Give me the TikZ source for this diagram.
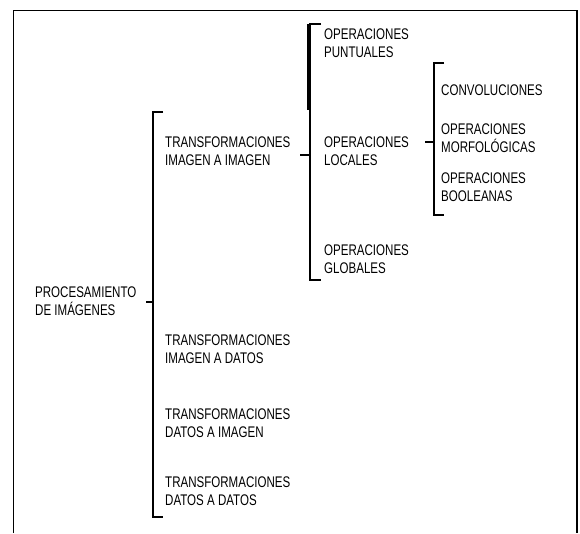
\documentclass[tikz,border=0pt]{standalone}
\usepackage{fontspec}
\setmainfont[FakeStretch=0.75]{Liberation Sans}
\begin{document}
\begin{tikzpicture}[x=1pt,y=-1pt,
    lbl/.style={anchor=west,align=left,inner sep=0pt,font=\fontsize{15.4}{17.5}\selectfont},
    brak/.style={line width=2.2pt},
    stub/.style={line width=1.1pt}]
  \useasboundingbox (0,0) rectangle (580,533);
  \draw[line width=1pt] (13,533)--(13,10)--(577,10);
  \draw[line width=2pt] (577,10)--(577,533);
  % labels
  \node[lbl] (proc) at (35,301) {PROCESAMIENTO\\DE IMÁGENES};
  \node[lbl] (tii) at (165,151) {TRANSFORMACIONES\\IMAGEN A IMAGEN};
  \node[lbl] (tid) at (165,349) {TRANSFORMACIONES\\IMAGEN A DATOS};
  \node[lbl] (tdi) at (165,423) {TRANSFORMACIONES\\DATOS A IMAGEN};
  \node[lbl] (tdd) at (165,491) {TRANSFORMACIONES\\DATOS A DATOS};
  \node[lbl] (punt) at (324,43) {OPERACIONES\\PUNTUALES};
  \node[lbl] (loc) at (324,151) {OPERACIONES\\LOCALES};
  \node[lbl] (glob) at (324,259) {OPERACIONES\\GLOBALES};
  \node[lbl] (conv) at (441,90) {CONVOLUCIONES};
  \node[lbl] (morf) at (441,138) {OPERACIONES\\MORFOLÓGICAS};
  \node[lbl] (bool) at (441,187) {OPERACIONES\\BOOLEANAS};
  % brackets
  \coordinate (a1) at (163,112);
  \coordinate (am) at (153,302);
  \coordinate (a2) at (163,517);
  \draw[brak] (a1) -| (am) |- (a2);
  \draw[stub] (am) -- ++(-7,0);
  \coordinate (b1) at (321,24);
  \coordinate (bm) at (310,155);
  \coordinate (b2) at (321,280);
  \draw[brak] (b1) -| (bm) |- (b2);
  \draw[line width=3.4pt] (309,24) -- (309,110);
  \draw[stub] (bm) -- ++(-10,0);
  \coordinate (c1) at (444,63);
  \coordinate (cm) at (434,142);
  \coordinate (c2) at (444,215);
  \draw[brak] (c1) -| (cm) |- (c2);
  \draw[stub] (cm) -- ++(-9,0);
\end{tikzpicture}
\end{document}
